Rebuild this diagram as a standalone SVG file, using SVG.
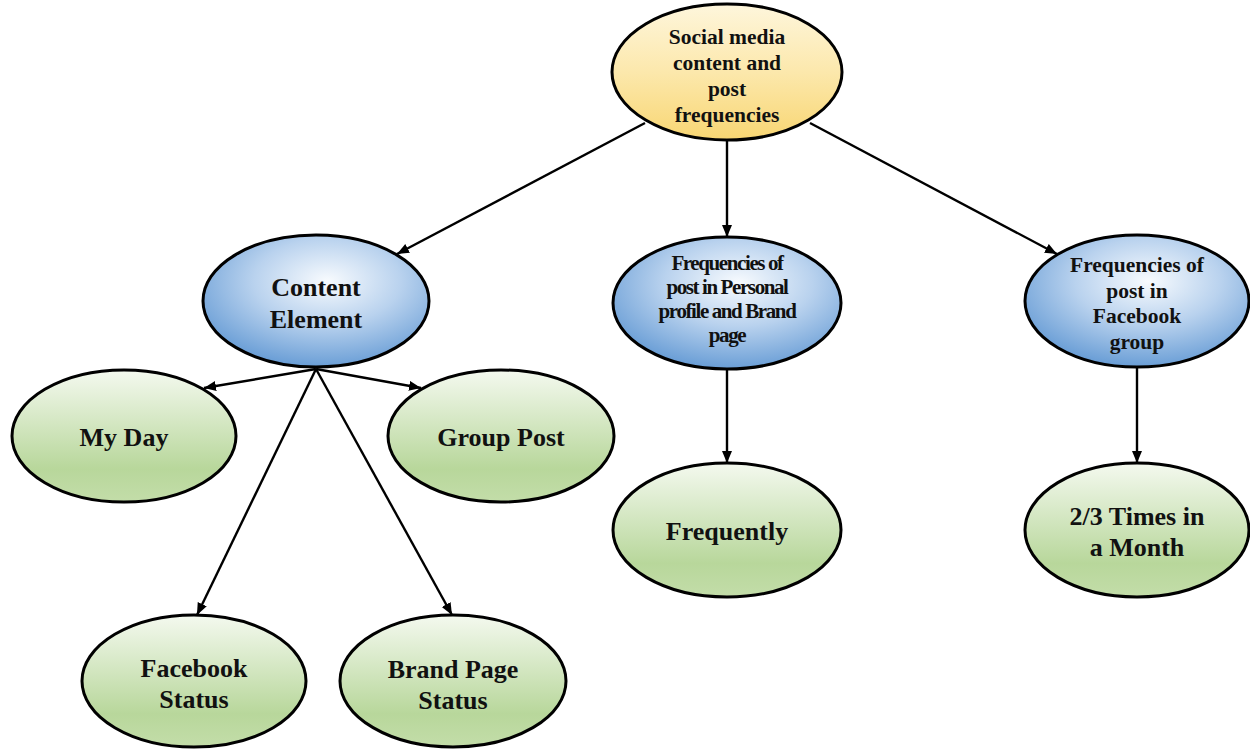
<svg xmlns="http://www.w3.org/2000/svg" width="1250" height="749" viewBox="0 0 1250 749">
<style>
  .node ellipse { stroke: #000; stroke-width: 3; }
  .yellow { fill: url(#gYellow); }
  .blue { fill: url(#gBlue); }
  .green { fill: url(#gGreen); }
  text { font-family: "Liberation Serif", "Times New Roman", serif; font-weight: bold; fill: #111; text-anchor: middle; }
  .t21 { font-size: 21.5px; }
  .t24 { font-size: 26px; }
  .t20c { font-size: 21px; letter-spacing: -1.4px; }
  .conn line { stroke: #000; stroke-width: 2.4; marker-end: url(#arrow); }
</style>
<defs>
  <linearGradient id="gYellow" x1="0" y1="0" x2="0" y2="1">
    <stop offset="0" stop-color="#fef6dc"/>
    <stop offset="0.5" stop-color="#fce8ac"/>
    <stop offset="1" stop-color="#f8d673"/>
  </linearGradient>
  <radialGradient id="gBlue" cx="0.55" cy="0.35" r="0.65">
    <stop offset="0" stop-color="#f8fbfe"/>
    <stop offset="0.5" stop-color="#b9d2ee"/>
    <stop offset="1" stop-color="#6a9ed6"/>
  </radialGradient>
  <linearGradient id="gGreen" x1="0" y1="0" x2="0" y2="1">
    <stop offset="0" stop-color="#f4f9ef"/>
    <stop offset="0.75" stop-color="#b8d79b"/>
    <stop offset="1" stop-color="#c3dda9"/>
  </linearGradient>
  <marker id="arrow" markerUnits="userSpaceOnUse" markerWidth="14" markerHeight="12" refX="12" refY="5" orient="auto">
    <path d="M0,0 L12,5 L0,10 z" fill="#000"/>
  </marker>
</defs>

<g id="connectors" class="conn">
  <line x1="645" y1="123" x2="397" y2="254"/>
  <line x1="727" y1="141" x2="727" y2="237"/>
  <line x1="810" y1="123" x2="1057" y2="254"/>
  <line x1="727" y1="369" x2="727" y2="463"/>
  <line x1="1137" y1="367" x2="1137" y2="463"/>
  <line x1="316" y1="369" x2="204" y2="388"/>
  <line x1="316" y1="369" x2="421" y2="388"/>
  <line x1="316" y1="369" x2="197" y2="615"/>
  <line x1="316" y1="369" x2="452" y2="615"/>
</g>

<g id="node-root" class="node">
  <ellipse class="yellow" cx="727" cy="72" rx="115" ry="68"/>
  <text class="t21" x="727" y="44">Social media</text>
  <text class="t21" x="727" y="70">content and</text>
  <text class="t21" x="727" y="96">post</text>
  <text class="t21" x="727" y="122">frequencies</text>
</g>

<g id="node-content-element" class="node">
  <ellipse class="blue" cx="316" cy="301" rx="113" ry="66"/>
  <text class="t24" x="316" y="296">Content</text>
  <text class="t24" x="316" y="328">Element</text>
</g>

<g id="node-freq-personal" class="node">
  <ellipse class="blue" cx="727" cy="303" rx="114" ry="66"/>
  <text class="t20c" x="727" y="270">Frequencies of</text>
  <text class="t20c" x="727" y="294">post in Personal</text>
  <text class="t20c" x="727" y="318">profile and Brand</text>
  <text class="t20c" x="727" y="342">page</text>
</g>

<g id="node-freq-group" class="node">
  <ellipse class="blue" cx="1137" cy="301" rx="112" ry="66"/>
  <text class="t21" x="1137" y="272">Frequencies of</text>
  <text class="t21" x="1137" y="298">post in</text>
  <text class="t21" x="1137" y="323">Facebook</text>
  <text class="t21" x="1137" y="349">group</text>
</g>

<g id="node-my-day" class="node">
  <ellipse class="green" cx="124" cy="436" rx="112" ry="66"/>
  <text class="t24" x="124" y="446">My Day</text>
</g>

<g id="node-group-post" class="node">
  <ellipse class="green" cx="501" cy="436" rx="113" ry="66"/>
  <text class="t24" x="501" y="446">Group Post</text>
</g>

<g id="node-facebook-status" class="node">
  <ellipse class="green" cx="194" cy="681" rx="112" ry="66"/>
  <text class="t24" x="194" y="677">Facebook</text>
  <text class="t24" x="194" y="708">Status</text>
</g>

<g id="node-brand-page-status" class="node">
  <ellipse class="green" cx="453" cy="681" rx="113" ry="66"/>
  <text class="t24" x="453" y="678">Brand Page</text>
  <text class="t24" x="453" y="709">Status</text>
</g>

<g id="node-frequently" class="node">
  <ellipse class="green" cx="727" cy="530" rx="114" ry="67"/>
  <text class="t24" x="727" y="540">Frequently</text>
</g>

<g id="node-two-three-times" class="node">
  <ellipse class="green" cx="1137" cy="530" rx="112" ry="67"/>
  <text class="t24" x="1137" y="525">2/3 Times in</text>
  <text class="t24" x="1137" y="556">a Month</text>
</g>
</svg>
